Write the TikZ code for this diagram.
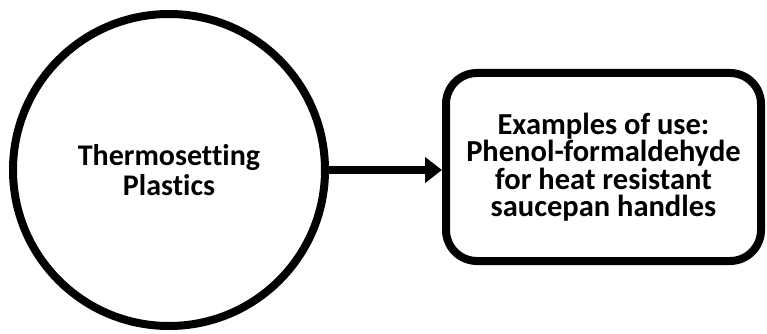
\documentclass[tikz,border=0pt]{standalone}
\usepackage{fontspec}
\setmainfont{Carlito}[Ligatures=NoCommon]
\usetikzlibrary{arrows.meta}
\tikzset{
	plastic/.style={draw, circle, line width=8pt, minimum size=312pt, align=center, font=\fontsize{30}{30}\selectfont\bfseries},
	usebox/.style={draw, rounded corners=31pt, line width=8pt, minimum width=315pt, minimum height=188pt, align=center, font=\fontsize{30.5}{27.5}\selectfont\bfseries}
}

\begin{document}
\begin{tikzpicture}[x=1pt, y=-1pt]
		%%%%% START %%%%%
		\useasboundingbox (0, 0) rectangle (767, 334);
		
		\node[plastic] (thermo) at (169, 170) {Thermosetting\\Plastics};
		\node[usebox] (examples) at (603.5, 167) {Examples of use:\\Phenol-formaldehyde\\for heat resistant\\saucepan handles};
		
		\draw[line width=8pt, -{Triangle[length=17pt, width=25pt]}] (thermo.east) -- (thermo.east -| examples.west);
		%%%%% END %%%%%
	\end{tikzpicture}
\end{document}
